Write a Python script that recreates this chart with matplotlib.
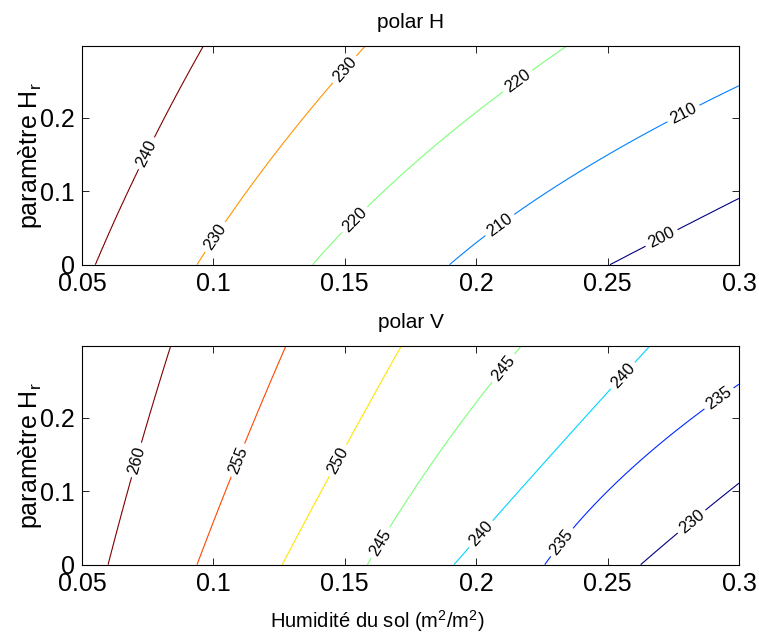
import numpy as np
import matplotlib
matplotlib.use("Agg")
import matplotlib.pyplot as plt

plt.rcParams['font.family'] = ['Liberation Sans', 'DejaVu Sans']
plt.rcParams['mathtext.fontset'] = 'custom'
plt.rcParams['mathtext.rm'] = 'Liberation Sans'
plt.rcParams['mathtext.it'] = 'Liberation Sans:italic'

# Hr values at which the contour crossings were read
hr_rows = [0.0, 0.1, 0.2, 0.3]

# polar H : soil moisture where each TB level crosses hr_rows
levels_h = [200, 210, 220, 230, 240]
xh_200 = [0.251, 0.305, 0.362, 0.420]
xh_210 = [0.190, 0.227, 0.276, 0.334]
xh_220 = [0.138, 0.164, 0.198, 0.235]
xh_230 = [0.094, 0.112, 0.135, 0.158]
xh_240 = [0.0552, 0.0675, 0.0815, 0.0965]

# polar V
levels_v = [230, 235, 240, 245, 250, 255, 260]
xv_230 = [0.2627, 0.2957, 0.333, 0.372]
xv_235 = [0.2262, 0.2496, 0.2826, 0.323]
xv_240 = [0.1915, 0.2163, 0.2411, 0.2666]
xv_245 = [0.1586, 0.1759, 0.1955, 0.2176]
xv_250 = [0.1262, 0.1410, 0.1563, 0.1718]
xv_255 = [0.0939, 0.1042, 0.1163, 0.1277]
xv_260 = [0.0600, 0.0673, 0.0755, 0.0839]

xticks = [0.05, 0.1, 0.15, 0.2, 0.25, 0.3]
xticklabels = ['0.05', '0.1', '0.15', '0.2', '0.25', '0.3']
yticks = [0, 0.1, 0.2]
yticklabels = ['0', '0.1', '0.2']

# where MATLAB put the inline labels
lab_h = [(0.0744, 0.152), (0.1006, 0.038), (0.1494, 0.268), (0.1539, 0.061),
         (0.2154, 0.252), (0.209, 0.054), (0.2788, 0.2066), (0.2706, 0.036)]
lab_v = [(0.0705, 0.143), (0.1089, 0.143), (0.1469, 0.143), (0.1641, 0.029),
         (0.2103, 0.268), (0.2014, 0.043), (0.2554, 0.259), (0.2331, 0.029),
         (0.2928, 0.2247), (0.282, 0.0587)]

YMAX = 0.2985


def build_field(crossings, levels, x, y):
    # smooth each level's crossing line over y, then interpolate level along x
    xc = np.array([np.polyval(np.polyfit(hr_rows, c, 2), y) for c in crossings])
    lv = np.asarray(levels, float)
    order = np.argsort(xc[:, 0])
    z = np.empty((len(y), len(x)))
    for j in range(len(y)):
        xs = xc[order, j]
        zs = lv[order]
        xs = np.r_[xs[0] - 1, xs, xs[-1] + 1]
        zs = np.r_[zs[0] + 100, zs, zs[-1] - 100]
        z[j] = np.interp(x, xs, zs)
    return z


def panel(ax, crossings, levels, labels, title):
    x = np.linspace(0.05, 0.3, 500)
    y = np.linspace(0, YMAX, 300)
    X, Y = np.meshgrid(x, y)
    Z = build_field(crossings, levels, x, y)
    cs = ax.contour(X, Y, Z, levels=levels, cmap='jet', vmin=min(levels),
                    vmax=max(levels), linewidths=0.8)
    ax.clabel(cs, manual=labels, inline=True, fmt='%d', fontsize=12,
              colors='k', inline_spacing=4)
    ax.set_xlim(0.05, 0.3)
    ax.set_ylim(0, YMAX)
    ax.set_xticks(xticks)
    ax.set_xticklabels(xticklabels)
    ax.set_yticks(yticks)
    ax.set_yticklabels(yticklabels)
    ax.tick_params(direction='in', length=5, width=0.6, top=True, right=True,
                   labelsize=18, pad=5)
    for s in ax.spines.values():
        s.set_linewidth(0.8)
    ax.set_ylabel(r'paramètre H$_\mathregular{r}$', fontsize=18)
    ax.yaxis.set_label_coords(-0.058, 0.5)
    ax.set_title(title, fontsize=15, pad=13)


fig = plt.figure(figsize=(7.59, 6.39), dpi=100)
ax1 = fig.add_axes([0.108, 0.5858, 0.8656, 0.3427])
ax2 = fig.add_axes([0.108, 0.1163, 0.8656, 0.3427])

panel(ax1, [xh_200, xh_210, xh_220, xh_230, xh_240], levels_h, lab_h, 'polar H')
panel(ax2, [xv_230, xv_235, xv_240, xv_245, xv_250, xv_255, xv_260], levels_v, lab_v, 'polar V')

ax2.set_xlabel(r'Humidité du sol (m$^\mathregular{2}$/m$^\mathregular{2}$)', fontsize=14.5)
ax2.xaxis.set_label_coords(0.45, -0.2)

fig.savefig('out.png', dpi=100)
